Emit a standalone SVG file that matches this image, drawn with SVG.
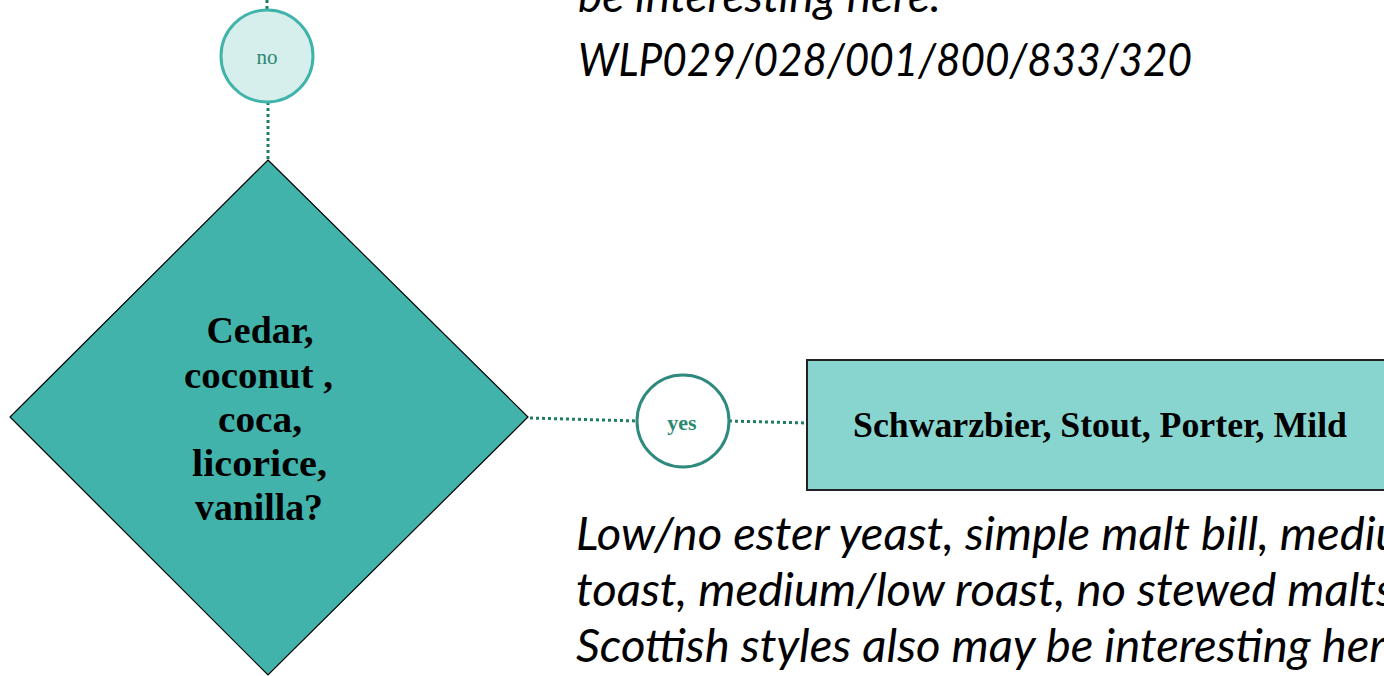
<svg xmlns="http://www.w3.org/2000/svg" width="1384" height="676" viewBox="0 0 1384 676">
<style>
.conn{fill:none;stroke:#1f7d62;stroke-width:3;stroke-dasharray:3 3}
.node-t{font-family:"Liberation Serif",serif;font-weight:bold;fill:#000;text-anchor:middle}
.note{font-family:Lato,"Liberation Sans",sans-serif;font-style:italic;font-size:46px;fill:#000}
.lbl{font-family:"Liberation Serif",serif;fill:#2a8a70;text-anchor:middle}
</style>
<rect width="1384" height="676" fill="#fff"/>
<g id="connectors">
<line class="conn" x1="267" y1="0" x2="267" y2="10"/>
<line class="conn" x1="268" y1="102" x2="268" y2="160"/>
<line class="conn" x1="530" y1="418" x2="637" y2="421"/>
<line class="conn" x1="729" y1="421" x2="807" y2="423"/>
</g>
<g id="note-top">
<text class="note" x="578" y="12">be interesting here.</text>
<text class="note" x="578" y="76" textLength="614" lengthAdjust="spacingAndGlyphs">WLP029/028/001/800/833/320</text>
</g>
<g id="no-label">
<circle cx="267" cy="56" r="46" fill="#d6efec" stroke="#40b4aa" stroke-width="3"/>
<text class="lbl" x="267" y="64" font-size="21">no</text>
</g>
<g id="decision">
<polygon points="268,160 528,417 268,675 10,417" fill="#41b3aa" stroke="#000" stroke-width="1.2"/>
<text class="node-t" x="260" y="343" font-size="37" textLength="107" lengthAdjust="spacingAndGlyphs">Cedar,</text>
<text class="node-t" x="258.5" y="388" font-size="37" textLength="149" lengthAdjust="spacingAndGlyphs">coconut ,</text>
<text class="node-t" x="260" y="432" font-size="37" textLength="84" lengthAdjust="spacingAndGlyphs">coca,</text>
<text class="node-t" x="259.5" y="476" font-size="37" textLength="135" lengthAdjust="spacingAndGlyphs">licorice,</text>
<text class="node-t" x="259" y="520" font-size="37" textLength="128" lengthAdjust="spacingAndGlyphs">vanilla?</text>
</g>
<g id="yes-label">
<circle cx="683" cy="421" r="46" fill="#fff" stroke="#2e8a7e" stroke-width="3"/>
<text class="lbl" x="682" y="430" font-size="22" font-weight="bold">yes</text>
</g>
<g id="styles">
<rect x="807" y="360" width="600" height="130" fill="#88d5cf" stroke="#222" stroke-width="2"/>
<text class="node-t" x="853" y="437" font-size="35" style="text-anchor:start" textLength="494" lengthAdjust="spacingAndGlyphs">Schwarzbier, Stout, Porter, Mild</text>
</g>
<g id="note-bottom" transform="matrix(1.028 0 0 1 -16.13 0)">
<text class="note" x="576" y="550">Low/no ester yeast, simple malt bill, medium</text>
<text class="note" x="576" y="606">toast, medium/low roast, no stewed malts.</text>
<text class="note" x="576" y="662">Scottish styles also may be interesting here.</text>
</g>
</svg>
